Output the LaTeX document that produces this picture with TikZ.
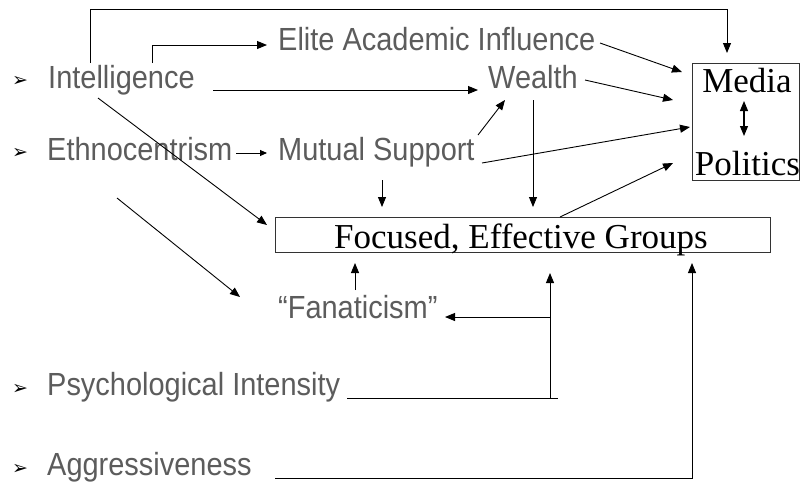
\documentclass[tikz,border=0pt]{standalone}
\usepackage{fontspec}
\setmainfont{Liberation Serif}
\newfontfamily\lbfont[FakeStretch=0.905]{Liberation Sans}
\newfontfamily\dejavu{DejaVu Sans}
\usetikzlibrary{arrows.meta}
\definecolor{txtgrey}{HTML}{5C5C5C}
\tikzset{
  lbl/.style={inner sep=0pt, anchor=base west, text=txtgrey, font=\lbfont\fontsize{32}{36}\selectfont},
  srf/.style={inner sep=0pt, anchor=base, text=black, font=\rmfamily\fontsize{35}{40}\selectfont},
  bul/.style={inner sep=0pt, text=black, font=\dejavu\fontsize{19}{22}\selectfont},
  boxx/.style={draw=black!80, line width=0.9pt, inner sep=0pt},
  con/.style={draw=black, line width=0.9pt},
  arr/.style={con, -{Triangle[length=10pt,width=8pt]}},
  sarr/.style={con, -{Triangle[length=7pt,width=6pt]}},
  darr/.style={con, line width=1.1pt, {Triangle[length=10pt,width=8pt]}-{Triangle[length=10pt,width=8pt]}}
}
\begin{document}
\begin{tikzpicture}[x=1pt,y=-1pt]
\path[fill=white] (0,0) rectangle (801,483);
\useasboundingbox (0,0) rectangle (801,483);

% bullets
\node[bul] (b1) at (20,81) {➢};
\node[bul] (b2) at (20,153) {➢};
\node[bul] (b3) at (20,389) {➢};
\node[bul] (b4) at (20,469) {➢};

% labels
\node[lbl] (int) at (48,88) {Intelligence};
\node[lbl] (eai) at (278,50) {Elite Academic Influence};
\node[lbl] (wea) at (488,88) {Wealth};
\node[lbl] (eth) at (47,160) {Ethnocentrism};
\node[lbl] (mut) at (278,160) {Mutual Support};
\node[lbl] (fan) at (278,318) {“Fanaticism”};
\node[lbl] (psy) at (47,395) {Psychological Intensity};
\node[lbl] (agg) at (47,475) {Aggressiveness};

% boxes
\node[boxx, minimum width=495pt, minimum height=35pt] (fg) at (522.5,234.5) {};
\node[srf] (fgt) at (521,248) {Focused, Effective Groups};
\node[boxx, minimum width=107pt, minimum height=117pt] (mp) at (745.5,121.5) {};
\node[srf] (med) at (747,92) {Media};
\node[srf] (pol) at (747.5,175) {Politics};

% coordinates
\coordinate (i1) at (90,63);
\coordinate (i1t) at (90,9);
\coordinate (m1) at (727,53);
\coordinate (i2) at (152,63);
\coordinate (e2) at (267,45);
\coordinate (i3) at (213,90);
\coordinate (w3) at (478,90);
\coordinate (e4) at (600,43);
\coordinate (m4) at (682,72);
\coordinate (w5) at (585,80);
\coordinate (m5) at (673,100);
\coordinate (s6) at (478,135);
\coordinate (w6) at (505,100);
\coordinate (s7) at (482,163);
\coordinate (m7) at (690,127);
\coordinate (f8) at (560,217);
\coordinate (m8) at (673,163);
\coordinate (w9) at (533,100);
\coordinate (f9) at (533,207);
\coordinate (s10) at (382,180);
\coordinate (f10) at (382,207);
\coordinate (i11) at (98,98);
\coordinate (f11) at (267,225);
\coordinate (e12) at (117,198);
\coordinate (n12) at (240,297);
\coordinate (n13) at (355,290);
\coordinate (f13) at (355,263);
\coordinate (p14) at (347,398);
\coordinate (p14e) at (558,398);
\coordinate (p14c) at (550,398);
\coordinate (f14) at (550,273);
\coordinate (p14b) at (550,317);
\coordinate (n14) at (445,317);
\coordinate (a15) at (275,478);
\coordinate (a15c) at (692,478);
\coordinate (f15) at (692,263);
\coordinate (et1) at (236,153);
\coordinate (ms1) at (267,153);
\coordinate (md1) at (744,101);
\coordinate (md2) at (744,136);

% connectors
\draw[arr] (i1) -- (i1t) -| (m1);
\draw[arr] (i2) |- (e2);
\draw[arr] (i3) -- (w3);
\draw[arr] (e4) -- (m4);
\draw[arr] (w5) -- (m5);
\draw[arr] (s6) -- (w6);
\draw[arr] (s7) -- (m7);
\draw[arr] (f8) -- (m8);
\draw[arr] (w9) -- (f9);
\draw[arr] (s10) -- (f10);
\draw[arr] (i11) -- (f11);
\draw[arr] (e12) -- (n12);
\draw[arr] (n13) -- (f13);
\draw[con] (p14) -- (p14e);
\draw[arr] (p14c) -- (f14);
\draw[arr] (p14b) -- (n14);
\draw[arr] (a15) -- (a15c) -- (f15);
\draw[sarr] (et1) -- (ms1);
\draw[darr] (md1) -- (md2);
\end{tikzpicture}
\end{document}
